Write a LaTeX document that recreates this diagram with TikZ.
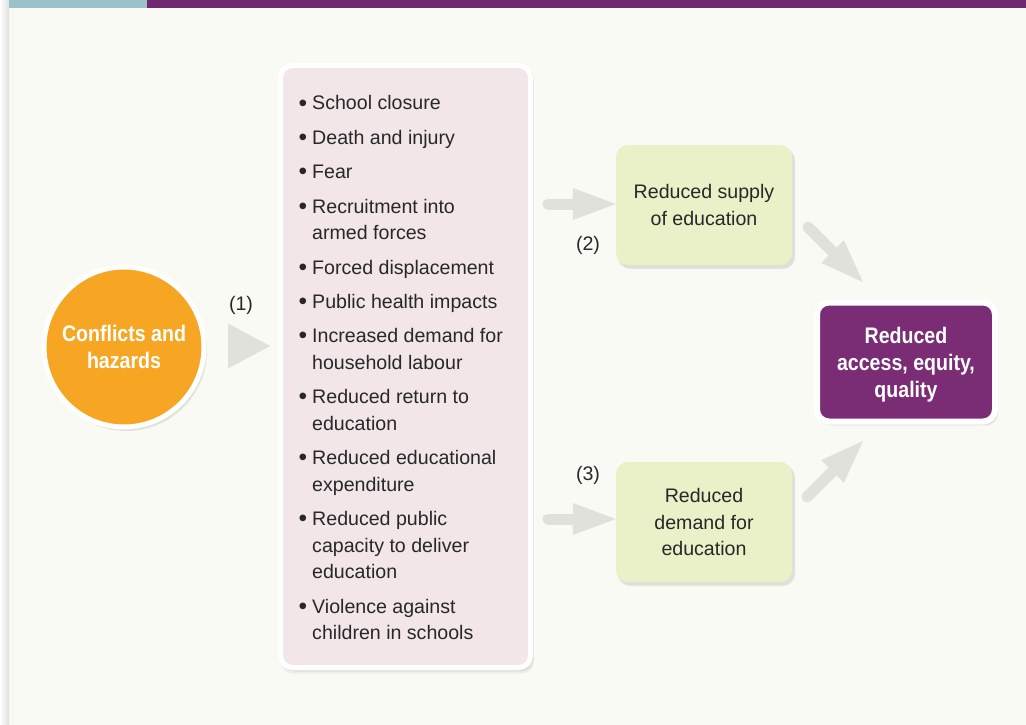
\documentclass[tikz,border=0pt]{standalone}
\usepackage{fontspec}
\setmainfont{Liberation Sans}
\newfontfamily\condfont[FakeStretch=0.87]{Liberation Sans}
\usetikzlibrary{arrows.meta,shadows}
\definecolor{bgcol}{RGB}{249,250,243}
\definecolor{tealbar}{RGB}{155,194,200}
\definecolor{purplebar}{RGB}{112,40,112}
\definecolor{orangec}{RGB}{247,166,35}
\definecolor{pinkc}{RGB}{242,230,232}
\definecolor{greenc}{RGB}{234,241,200}
\definecolor{purplec}{RGB}{122,45,116}
\definecolor{arrowgray}{RGB}{224,225,219}
\definecolor{txt}{RGB}{40,40,40}
\newcommand{\bul}{\llap{\raisebox{-1.8pt}{\scalebox{1.25}{\textbullet}}\hspace{5pt}}}
\tikzset{
  softshadow/.style={
    general shadow={shadow xshift=2pt,shadow yshift=-3pt,shadow scale=1.01,opacity=0.05,fill=black},
    general shadow={shadow xshift=3pt,shadow yshift=-4pt,opacity=0.05,fill=black}},
  bodytext/.style={font=\fontsize{19.6}{26}\selectfont, text=txt, inner sep=0pt},
  itemtext/.style={bodytext, anchor=base west},
  greenbox/.style={rectangle, rounded corners=12pt, fill=greenc, minimum width=176pt, minimum height=120pt, align=center, bodytext, font=\fontsize{19.6}{26.8}\selectfont, softshadow},
  pinkbox/.style={rectangle, rounded corners=12pt, fill=pinkc, draw=white, line width=5pt, minimum width=250pt, minimum height=602pt, softshadow},
  srccircle/.style={circle, fill=orangec, draw=white, line width=5pt, minimum size=160pt, inner sep=0pt, align=center, text=white, font=\condfont\bfseries\fontsize{22.5}{26.5}\selectfont, softshadow},
  outbox/.style={rectangle, rounded corners=12pt, fill=purplec, draw=white, line width=6pt, minimum width=178pt, minimum height=119pt, softshadow},
  outtext/.style={align=center, text=white, inner sep=0pt, font=\condfont\bfseries\fontsize{22.5}{27}\selectfont},
  garrow/.style={draw=arrowgray, line width=11pt, line cap=round, -{Triangle[length=43pt,width=32pt,line width=0pt]}},
  numlabel/.style={bodytext, anchor=base}
}
\begin{document}
\begin{tikzpicture}[x=1pt,y=-1pt]
\useasboundingbox (0,0) rectangle (1026,725);
% background
\fill[bgcol] (0,0) rectangle (1026,725);
\shade[left color=white, right color=black!13] (0,0) rectangle (9,725);
\fill[tealbar] (9,0) rectangle (147,8);
\fill[purplebar] (147,0) rectangle (1026,8);

% nodes
\node[srccircle] (src) at (124,347) {Conflicts and\\hazards};
\node[pinkbox] (list) at (405.5,366.5) {};
\node[greenbox] (supply) at (704,205) {Reduced supply\\of education};
\node[greenbox] (demand) at (704,522) {Reduced\\demand for\\education};
\node[outbox] (out) at (906,362) {};
\node[outtext] (outlbl) at (906,365) {Reduced\\access, equity,\\quality};

% list items
\foreach \y/\t [count=\i] in {
  110/{\bul School closure},
  144/{\bul Death and injury},
  178/{\bul Fear},
  213/{\bul Recruitment into},
  239/{armed forces},
  274/{\bul Forced displacement},
  308/{\bul Public health impacts},
  342/{\bul Increased demand for},
  369/{household labour},
  403/{\bul Reduced return to},
  430/{education},
  464/{\bul Reduced educational},
  491/{expenditure},
  525/{\bul Reduced public},
  552/{capacity to deliver},
  578/{education},
  613/{\bul Violence against},
  639/{children in schools}}
  { \node[itemtext] (item\i) at (312,\y) {\t}; }

% labels
\node[numlabel] (l1) at (241,310) {(1)};
\node[numlabel] (l2) at (588,250) {(2)};
\node[numlabel] (l3) at (588,480) {(3)};

% connectors
\coordinate (a1s) at (228,346);
\coordinate (a1e) at (270,346);
\draw[draw=arrowgray, line width=0.1pt, -{Triangle[length=42pt,width=45pt,line width=0pt]}] (a1s) -- (a1e);

\coordinate (s2) at (548,204);
\draw[garrow] (s2) -- (supply.west |- s2);
\coordinate (s3) at (548,519);
\draw[garrow] (s3) -- (demand.west |- s3);

\coordinate (d1s) at (808,227);
\coordinate (d1e) at (863,282);
\draw[garrow] (d1s) -- (d1e);
\coordinate (d2s) at (807,497);
\coordinate (d2e) at (863,441);
\draw[garrow] (d2s) -- (d2e);
\end{tikzpicture}
\end{document}
